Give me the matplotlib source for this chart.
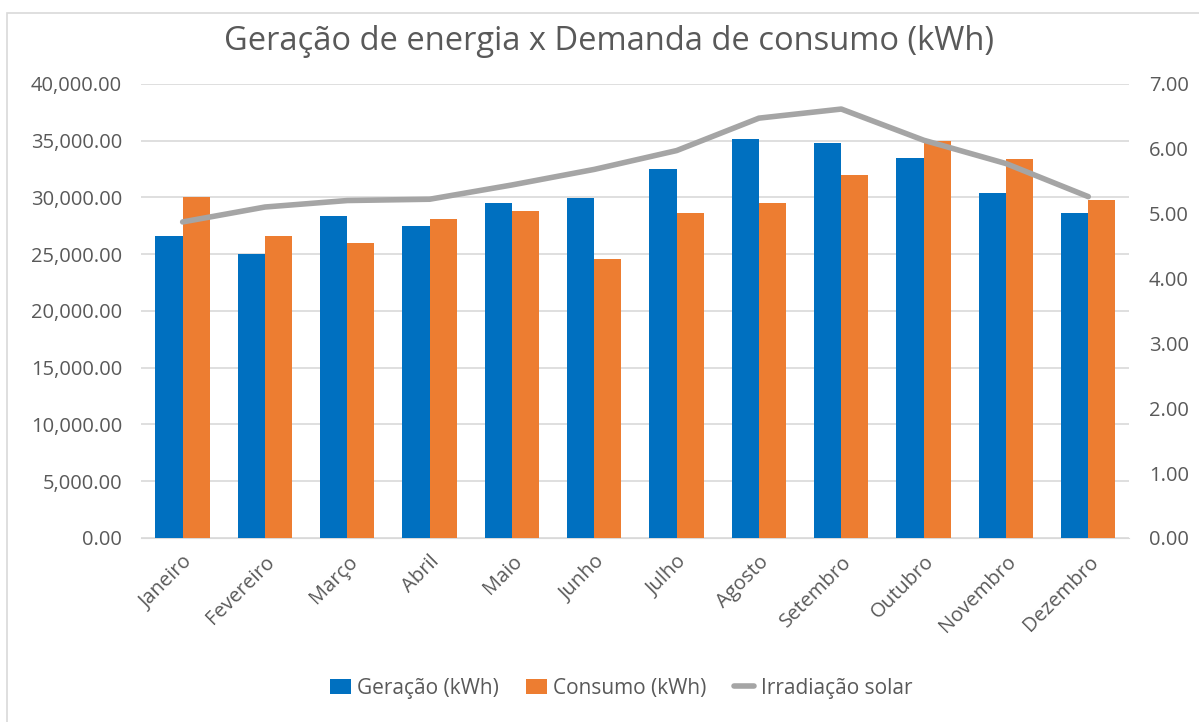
import matplotlib
matplotlib.use('Agg')
import matplotlib.pyplot as plt
from matplotlib.patches import Rectangle
from matplotlib.ticker import FuncFormatter, MultipleLocator
import numpy as np

plt.rcParams['font.family'] = ['Open Sans', 'DejaVu Sans']

meses = ['Janeiro', 'Fevereiro', 'Março', 'Abril', 'Maio', 'Junho',
         'Julho', 'Agosto', 'Setembro', 'Outubro', 'Novembro', 'Dezembro']
geracao = [26600, 25040, 28330, 27480, 29540, 29900,
           32510, 35160, 34800, 33480, 30390, 28600]
consumo = [30000, 26600, 25950, 28100, 28830, 24540,
           28600, 29480, 31950, 34950, 33360, 29800]
irradiacao = [4.87, 5.10, 5.20, 5.22, 5.44, 5.68,
              5.97, 6.47, 6.61, 6.13, 5.77, 5.26]

cor_txt = '#595959'
x = np.arange(len(meses))
w = 0.33

fig = plt.figure(figsize=(11.99, 7.22), dpi=100)
ax = fig.add_axes([0.118, 0.255, 0.824, 0.629])
ax2 = ax.twinx()

b1 = ax.bar(x - w / 2, geracao, w, color='#0070c0', label='Geração (kWh)', zorder=3)
b2 = ax.bar(x + w / 2, consumo, w, color='#ed7d31', label='Consumo (kWh)', zorder=3)
l1, = ax2.plot(x, irradiacao, color='#a5a5a5', lw=4, label='Irradiação solar',
               solid_capstyle='round')

ax.set_xlim(-0.5, len(meses) - 0.5)
ax.set_ylim(0, 40000)
ax2.set_ylim(0, 7)
ax.yaxis.set_major_locator(MultipleLocator(5000))
ax2.yaxis.set_major_locator(MultipleLocator(1))
ax.yaxis.set_major_formatter(FuncFormatter(lambda v, p: '{:,.2f}'.format(v)))
ax2.yaxis.set_major_formatter(FuncFormatter(lambda v, p: '{:.2f}'.format(v)))
ax.grid(axis='y', color='#d9d9d9', lw=1.2, zorder=0)
ax.set_axisbelow(True)

for a in (ax, ax2):
    for s in a.spines.values():
        s.set_visible(False)
    a.tick_params(length=0, labelsize=14.5, labelcolor=cor_txt)
ax.spines['bottom'].set_visible(True)
ax.spines['bottom'].set_color('#d9d9d9')
ax.tick_params(axis='y', pad=14)
ax2.tick_params(axis='y', pad=14)

ax.set_xticks(x)
ax.set_xticklabels(meses, rotation=45, ha='right', rotation_mode='anchor')
ax.tick_params(axis='x', pad=10)

fig.suptitle('Geração de energia x Demanda de consumo (kWh)', x=0.508, y=0.965,
             fontsize=23.5, color=cor_txt)

fig.legend(handles=[b1, b2, l1], loc='center', bbox_to_anchor=(0.518, 0.047),
           ncol=3, frameon=False, fontsize=15, labelcolor=cor_txt,
           handlelength=1.0, handletextpad=0.3, columnspacing=1.3)

fig.patches.append(Rectangle((7 / 1199, -0.1), 1.1, 1 - 13 / 722 + 0.1,
                             transform=fig.transFigure, fill=False,
                             edgecolor='#d9d9d9', lw=1.2))

fig.savefig('out.png', dpi=100)
